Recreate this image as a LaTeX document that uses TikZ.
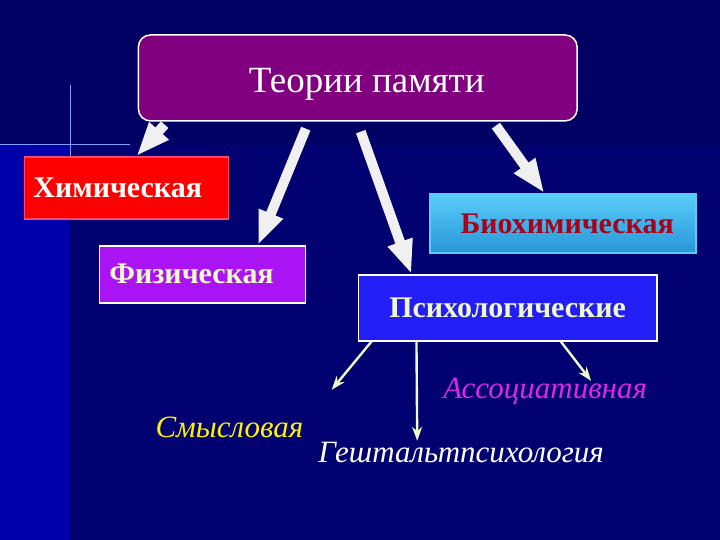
\documentclass[tikz,border=0pt]{standalone}
\usepackage{fontspec}
\setmainfont{Liberation Serif}
\usepackage{tikz}
\usetikzlibrary{arrows.meta}
\definecolor{navy}{RGB}{0, 0, 100}
\definecolor{lownavy}{RGB}{0, 0, 112}
\definecolor{stripblue}{RGB}{0, 0, 170}
\definecolor{titlepurple}{RGB}{128, 0, 128}
\definecolor{chemred}{RGB}{255, 0, 0}
\definecolor{chempink}{RGB}{255, 70, 110}
\definecolor{physviolet}{RGB}{170, 20, 245}
\definecolor{biotop}{RGB}{90, 205, 250}
\definecolor{biobottom}{RGB}{40, 150, 215}
\definecolor{biotext}{RGB}{170, 0, 25}
\definecolor{psychblue}{RGB}{35, 30, 245}
\definecolor{paleyellow}{RGB}{240, 250, 200}
\definecolor{assocpink}{RGB}{220, 40, 230}
\definecolor{sparkle}{RGB}{70, 120, 255}

\tikzset{
  box/.style={draw=white, line width=1.5pt, font=\bfseries\fontsize{30}{32}\selectfont},
  slanted/.style={font=\itshape\fontsize{31}{33}\selectfont},
  fat/.style={line width=10pt, draw=gray!12, -{Triangle[length=34pt,width=24pt]}},
  thin/.style={line width=2.4pt, draw=paleyellow, -{Stealth[length=14pt,width=10pt]}}
}

\begin{document}
\begin{tikzpicture}[x=1pt,y=-1pt]
  % background
  \fill[navy] (0,0) rectangle (720,540);
  \fill[lownavy] (70,145) rectangle (720,540);
  \fill[stripblue] (0,145) rectangle (70,540);
  \draw[sparkle!70, line width=1pt] (0,145) -- (130,145);
  \draw[sparkle!70, line width=1pt] (70,85) -- (70,158);
  \useasboundingbox (0,0) rectangle (720,540);

  \node (title) [draw=white, line width=1.5pt, rounded corners=12pt, fill=titlepurple,
    minimum width=439pt, minimum height=86pt, text=white,
    font=\fontsize{37}{39}\selectfont] at (357.5,78) {\hspace{18pt}\raisebox{-6pt}[\height][\depth]{Теории памяти}};

  \node (chem) [box, fill=chemred, draw=chempink, minimum height=62pt,
    text width=186pt, inner xsep=9pt, align=left, text=white] at (126,188) {Химическая};
  \node (phys) [box, fill=physviolet, minimum height=57pt,
    text width=186pt, inner xsep=10pt, align=left, text=paleyellow] at (202,274.5) {Физическая};
  \node (bio) [box, draw=biotop, top color=biotop, bottom color=biobottom,
    minimum width=266pt, minimum height=59pt, text=biotext] at (563,223.5) {\hspace{8pt}Биохимическая};
  \node (psych) [box, fill=psychblue, minimum width=299pt, minimum height=66pt,
    text=paleyellow] at (507.5,308) {Психологические\hspace{10pt}};

  \node (assoc) [slanted, text=assocpink] at (545,392) {Ассоциативная};
  \node (sense) [slanted, text=yellow] at (229,428) {Смысловая};
  \node (gestalt) [slanted, text=white] at (461,453) {Гештальтпсихология};

  % block arrows from the title
  \draw[fat] ([xshift=27pt,yshift=-3pt]title.south west) -- ([xshift=10pt]chem.north);
  \draw[fat] ([xshift=-52pt,yshift=-7pt]title.south) -- ([xshift=-48pt]phys.north east);
  \draw[fat] ([xshift=3pt,yshift=-10pt]title.south) -- ([xshift=54pt]psych.north west);
  \draw[fat] ([xshift=-82pt,yshift=-4pt]title.south east) -- ([xshift=115pt]bio.north west);

  % thin arrows from the psychological box
  \draw[thin] ([xshift=14pt]psych.south west) -- ([xshift=25pt,yshift=24pt]sense.north east);
  \draw[thin] ([xshift=59pt]psych.south west) -- ([xshift=-44pt,yshift=-2pt]gestalt.north);
  \draw[thin] ([xshift=-97pt]psych.south east) -- ([xshift=46pt,yshift=-6pt]assoc.north);
\end{tikzpicture}
\end{document}
